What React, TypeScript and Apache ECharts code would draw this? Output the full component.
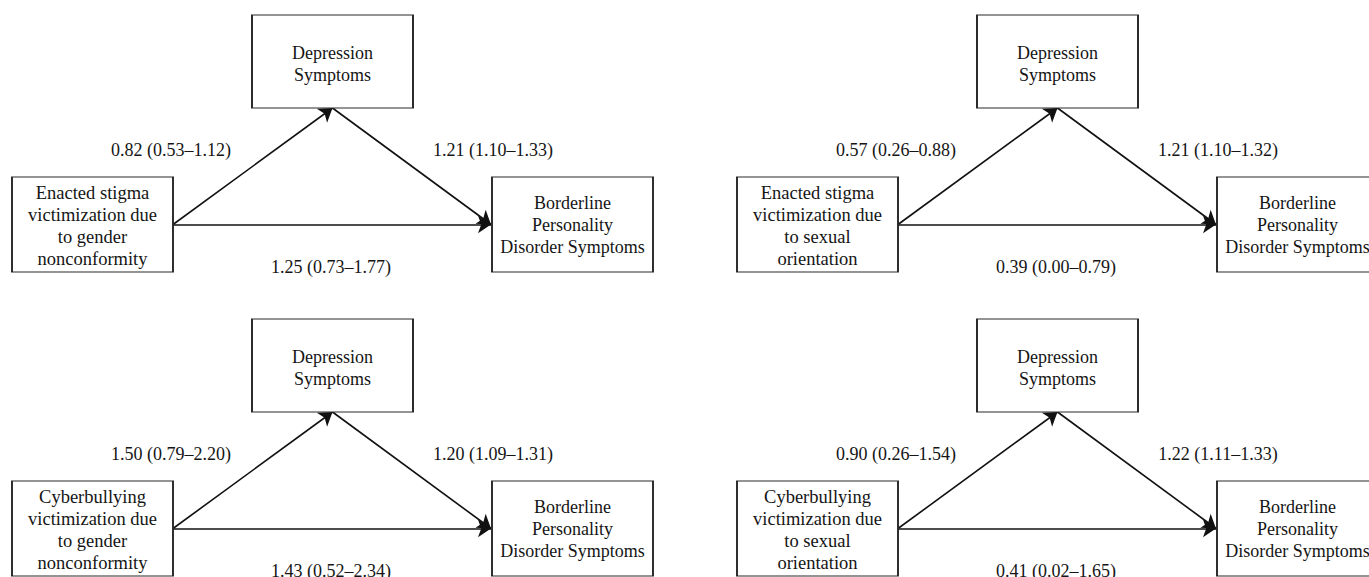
import React, { useEffect, useRef } from "react";
import * as echarts from "echarts";

// ---- data ----
const predictors = [
  "Enacted stigma\nvictimization due\nto gender\nnonconformity",
  "Enacted stigma\nvictimization due\nto sexual\norientation",
  "Cyberbullying\nvictimization due\nto gender\nnonconformity",
  "Cyberbullying\nvictimization due\nto sexual\norientation",
];
const mediatorName = "Depression\nSymptoms";
const outcomeName = "Borderline\nPersonality\nDisorder Symptoms";

// path a: predictor -> depression
const aEst = [0.82, 0.57, 1.5, 0.9];
const aLow = [0.53, 0.26, 0.79, 0.26];
const aHigh = [1.12, 0.88, 2.2, 1.54];
// path b: depression -> BPD
const bEst = [1.21, 1.21, 1.2, 1.22];
const bLow = [1.1, 1.1, 1.09, 1.11];
const bHigh = [1.33, 1.32, 1.31, 1.33];
// path c': predictor -> BPD (direct)
const cEst = [1.25, 0.39, 1.43, 0.41];
const cLow = [0.73, 0.0, 0.52, 0.02];
const cHigh = [1.77, 0.79, 2.34, 1.65];

// ---- layout (pixel units of a hidden cartesian frame) ----
const W = 1369;
const H = 577;
const panelOffsets = [
  [0, 0],
  [725, 0],
  [0, 304],
  [725, 304],
];
const BOX_W = 161;
const MED_H = 93;
const SIDE_H = 95;
const medC = [332.5, 61.5];
const predC = [92.5, 224.5];
const outC = [572.5, 224.5];
const aLabelPos = [171, 150];
const bLabelPos = [493, 150];
const cLabelPos = [331, 267];

const FONT = "Liberation Serif";
const TEXT_COLOR = "#151515";

const fmt = (e: number, l: number, h: number) =>
  `${e.toFixed(2)} (${l.toFixed(2)}–${h.toFixed(2)})`;

function buildOption() {
  const nodes: any[] = [];
  const links: any[] = [];
  panelOffsets.forEach(([dx, dy], i) => {
    const box = (
      name: string,
      c: number[],
      h: number,
      text: string,
      fs: number,
      offY: number
    ) => ({
      name,
      value: [c[0] + dx, c[1] + dy],
      symbol: "rect",
      symbolSize: [BOX_W, h],
      itemStyle: { color: "#ffffff", borderColor: "#2a2a2a", borderWidth: 1.5 },
      label: {
        show: true,
        position: "inside",
        offset: [0, offY],
        formatter: text,
        fontFamily: FONT,
        fontSize: fs,
        lineHeight: 22,
        color: TEXT_COLOR,
        align: "center",
      },
    });
    nodes.push(box(`pred${i}`, predC, SIDE_H, predictors[i], 18.5, 1));
    nodes.push(box(`med${i}`, medC, MED_H, mediatorName, 18, 2.5));
    nodes.push(box(`out${i}`, outC, SIDE_H, outcomeName, 18, 0));

    const anchor = (name: string, x: number, y: number) => ({
      name,
      value: [x + dx, y + dy],
      symbol: "circle",
      symbolSize: 0,
      itemStyle: { color: "rgba(0,0,0,0)" },
      label: { show: false },
    });
    const pR = predC[0] + BOX_W / 2;
    const mB = medC[1] + MED_H / 2;
    const oL = outC[0] - BOX_W / 2 - 1;
    nodes.push(anchor(`pA${i}`, pR, predC[1]));
    nodes.push(anchor(`mA${i}`, medC[0], mB));
    nodes.push(anchor(`mS${i}`, medC[0], mB));
    nodes.push(anchor(`oA${i}`, oL, outC[1]));

    const lbl = (name: string, p: number[], text: string) => ({
      name,
      value: [p[0] + dx, p[1] + dy],
      symbol: "rect",
      symbolSize: 1,
      itemStyle: { color: "rgba(0,0,0,0)" },
      label: {
        show: true,
        position: "inside",
        formatter: text,
        fontFamily: FONT,
        fontSize: 18,
        color: TEXT_COLOR,
      },
    });
    nodes.push(lbl(`aL${i}`, aLabelPos, fmt(aEst[i], aLow[i], aHigh[i])));
    nodes.push(lbl(`bL${i}`, bLabelPos, fmt(bEst[i], bLow[i], bHigh[i])));
    nodes.push(lbl(`cL${i}`, cLabelPos, fmt(cEst[i], cLow[i], cHigh[i])));

    links.push({ source: `pA${i}`, target: `mA${i}` });
    links.push({ source: `mS${i}`, target: `oA${i}` });
    links.push({ source: `pA${i}`, target: `oA${i}` });
  });

  return {
    animation: false,
    backgroundColor: "#ffffff",
    grid: { left: 0, right: 0, top: 0, bottom: 0, containLabel: false },
    xAxis: { type: "value", min: 0, max: W, show: false },
    yAxis: { type: "value", min: 0, max: H, inverse: true, show: false },
    series: [
      {
        type: "graph",
        coordinateSystem: "cartesian2d",
        layout: "none",
        silent: true,
        roam: false,
        edgeSymbol: ["none", "arrow"],
        edgeSymbolSize: [0, 13],
        lineStyle: { color: "#111111", width: 1.6, opacity: 1, curveness: 0 },
        emphasis: { disabled: true },
        data: nodes,
        links,
      },
    ],
  };
}

export default function App() {
  const ref = useRef<HTMLDivElement>(null);
  useEffect(() => {
    if (!ref.current) return;
    const chart = echarts.init(ref.current, undefined, { renderer: "svg" });
    chart.setOption(buildOption() as any);
    return () => chart.dispose();
  }, []);
  return (
    <div
      ref={ref}
      style={{ position: "fixed", left: 0, top: 0, width: W, height: H, background: "#fff" }}
    />
  );
}
